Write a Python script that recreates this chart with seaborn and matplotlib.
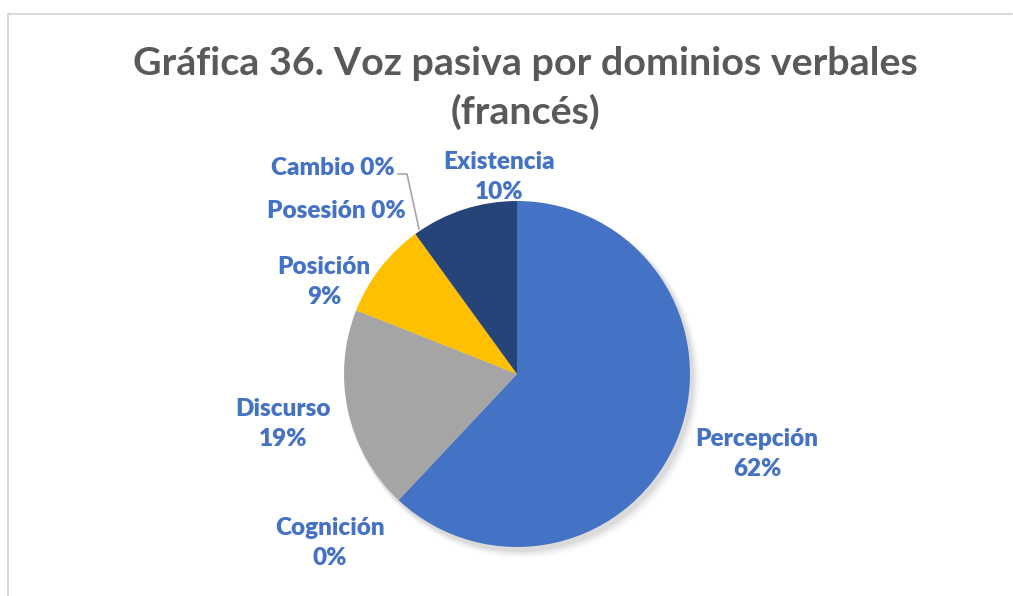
import matplotlib
matplotlib.use("Agg")
import matplotlib.pyplot as plt
import seaborn as sns
from matplotlib.lines import Line2D

sns.set_theme(style="white")
plt.rcParams['font.family'] = ['Lato', 'DejaVu Sans']

# Dominios verbales, en el orden de las agujas del reloj desde arriba
dominios = ["Percepción", "Cognición", "Discurso", "Posición", "Posesión", "Cambio", "Existencia"]
porcentajes = [62, 0, 19, 9, 0, 0, 10]
colores = ["#4472C4", "#ED7D31", "#A5A5A5", "#FFC000", "#5B9BD5", "#70AD47", "#264478"]

W, H = 1013, 596
fig = plt.figure(figsize=(W / 100, H / 100), dpi=100)
ax = fig.add_axes([0, 0, 1, 1])

cx, cy, r = 517, H - 374, 173

# Sombra suave del gráfico
for i, a in enumerate([0.05, 0.04, 0.03, 0.02]):
    ax.add_patch(plt.Circle((cx + 3 + i, cy - 4 - i), r + 1 + i, color="black", alpha=a, lw=0, zorder=0))

ax.pie(porcentajes, colors=colores, startangle=90, counterclock=False,
       center=(cx, cy), radius=r, frame=True,
       wedgeprops=dict(linewidth=0, zorder=2))
ax.set_xlim(0, W)
ax.set_ylim(0, H)
ax.set_aspect("equal")
ax.axis("off")

label_color = "#4472C4"
# Posiciones de las etiquetas (x, y desde arriba, en dos líneas)
etiquetas = {
    "Percepción": (757, 454, True),
    "Cognición": (330, 543, True),
    "Discurso": (283, 424, True),
    "Posición": (324, 282, True),
    "Posesión": (336, 211, False),
    "Cambio": (333, 168, False),
    "Existencia": (499, 177, True),
}
for nombre, valor in zip(dominios, porcentajes):
    x, y, dos_lineas = etiquetas[nombre]
    sep = "\n" if dos_lineas else " "
    ax.text(x, H - y, f"{nombre}{sep}{valor}%", ha="center", va="center",
            fontsize=17.5, fontweight="heavy", color=label_color,
            linespacing=1.4, zorder=5)

# Línea guía de "Cambio"
ax.add_line(Line2D([398, 407, 419], [H - 174, H - 174, H - 229],
                   color="#A5A5A5", lw=1.2, zorder=4))

# Título
fig.text(525 / W, 1 - 88 / H, "Gráfica 36. Voz pasiva por dominios verbales\n(francés)",
         ha="center", va="center", fontsize=28.4, fontweight="bold",
         color="#595959", linespacing=1.4)

# Marco del área del gráfico
fig.add_artist(Line2D([8 / W, 8 / W], [0, 1 - 14 / H], transform=fig.transFigure,
                      color="#D9D9D9", lw=1.5))
fig.add_artist(Line2D([8 / W, 1012 / W], [1 - 14 / H, 1 - 14 / H], transform=fig.transFigure,
                      color="#D9D9D9", lw=1.5))

fig.savefig("out.png", dpi=100)
